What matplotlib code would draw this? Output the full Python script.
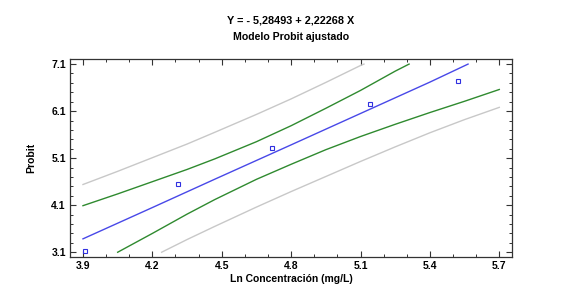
import numpy as np
import matplotlib
matplotlib.use('Agg')
import matplotlib.pyplot as plt
from matplotlib.ticker import MultipleLocator, FixedLocator

plt.rcParams['font.family'] = ['Liberation Sans', 'DejaVu Sans']

# observed points
obs_x = [3.907, 4.31, 4.717, 5.142, 5.522]
obs_y = [3.12, 4.56, 5.32, 6.26, 6.74]

# fitted line  Y = -5.28493 + 2.22268 X
fit_x = [3.9, 4.2, 4.47, 4.8, 5.1, 5.4, 5.565]
fit_y = [3.385, 4.05, 4.653, 5.383, 6.05, 6.717, 7.1]

# confidence limits (green)
cu_x = [3.9, 4.05, 4.2, 4.35, 4.47, 4.65, 4.8, 4.95, 5.1, 5.25, 5.31]
cu_y = [4.09, 4.34, 4.60, 4.86, 5.085, 5.45, 5.79, 6.16, 6.54, 6.95, 7.1]
cl_x = [4.05, 4.2, 4.35, 4.47, 4.65, 4.8, 4.95, 5.1, 5.25, 5.4, 5.55, 5.7]
cl_y = [3.1, 3.50, 3.91, 4.22, 4.65, 4.97, 5.28, 5.56, 5.82, 6.07, 6.31, 6.56]

# prediction limits (grey)
pu_x = [3.9, 4.05, 4.2, 4.35, 4.47, 4.65, 4.8, 4.95, 5.1, 5.115]
pu_y = [4.54, 4.82, 5.11, 5.40, 5.65, 6.03, 6.36, 6.71, 7.07, 7.1]
pl_x = [4.24, 4.35, 4.47, 4.65, 4.8, 4.95, 5.1, 5.25, 5.4, 5.55, 5.7]
pl_y = [3.1, 3.37, 3.65, 4.06, 4.39, 4.71, 5.03, 5.34, 5.64, 5.92, 6.18]

x_ticks = [3.9, 4.2, 4.5, 4.8, 5.1, 5.4, 5.7]
y_ticks = [3.1, 4.1, 5.1, 6.1, 7.1]

fig = plt.figure(figsize=(5.67, 3.03), dpi=100)
ax = fig.add_axes([0.1235, 0.152, 0.7795, 0.652])

ax.plot(pu_x, pu_y, color='#c8c8c8', lw=1.0)
ax.plot(pl_x, pl_y, color='#c8c8c8', lw=1.0)
ax.plot(cu_x, cu_y, color='#2f8a2f', lw=1.0)
ax.plot(cl_x, cl_y, color='#2f8a2f', lw=1.0)
ax.plot(fit_x, fit_y, color='#4848e8', lw=1.0)
ax.plot(obs_x, obs_y, ls='none', marker='s', ms=3.2, mfc='none',
        mec='#3030e0', mew=0.8)

ax.set_xlim(3.844, 5.755)
ax.set_ylim(3.0, 7.2)
ax.xaxis.set_major_locator(FixedLocator(x_ticks))
ax.yaxis.set_major_locator(FixedLocator(y_ticks))
ax.xaxis.set_minor_locator(MultipleLocator(0.1))
ax.yaxis.set_minor_locator(FixedLocator(np.arange(3.1, 7.15, 0.2)))
ax.set_xticklabels([f'{v:.1f}' for v in x_ticks])
ax.set_yticklabels([f'{v:.1f}' for v in y_ticks])

ax.tick_params(which='both', direction='in', top=True, right=True,
               colors='#333333', labelcolor='black', labelsize=7.5)
ax.tick_params(which='major', length=4, width=0.8, pad=3)
ax.tick_params(which='minor', length=2.5, width=0.7)
for lab in ax.get_xticklabels() + ax.get_yticklabels():
    lab.set_fontweight('bold')
for s in ax.spines.values():
    s.set_color('#333333')
    s.set_linewidth(0.9)

ax.set_xlabel('Ln Concentración (mg/L)', fontsize=7.5, fontweight='bold', labelpad=2)
ax.set_ylabel('Probit', fontsize=7.5, fontweight='bold', labelpad=11)

fig.text(0.513, 0.932, 'Y = - 5,28493 + 2,22268 X', ha='center', va='center',
         fontsize=7.8, fontweight='bold')
fig.text(0.513, 0.879, 'Modelo Probit ajustado', ha='center', va='center',
         fontsize=7.6, fontweight='bold')

fig.savefig('out.png', dpi=100)
